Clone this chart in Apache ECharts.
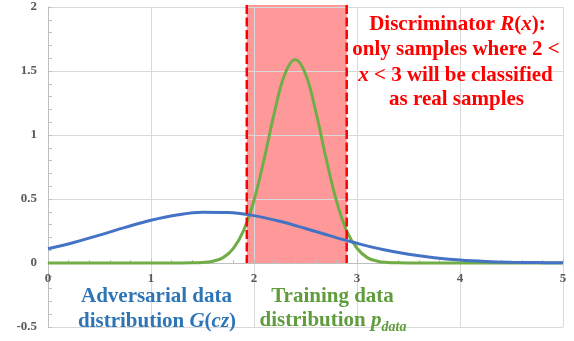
<!DOCTYPE html>
<html>
<head>
<meta charset="utf-8">
<script src="https://cdn.jsdelivr.net/npm/echarts@6/dist/echarts.min.js"></script>
<style>html,body{margin:0;padding:0;background:#fff}#c{width:574px;height:341px}</style>
</head>
<body>
<div id="c"></div>
<script>
// ---- data ----
const xTickLabels = ['0', '1', '2', '3', '4', '5'];
const yTickLabels = ['-0.5', '0', '0.5', '1', '1.5', '2'];

// Adversarial data distribution G(cz) (blue)
const advX = [0, 0.25, 0.5, 0.75, 1, 1.25, 1.5, 1.75, 2, 2.25, 2.5, 2.75, 3, 3.25, 3.5, 3.75, 4, 4.25, 4.5, 4.75, 5];
const advY = [0.112, 0.160, 0.218, 0.278, 0.334, 0.375, 0.397, 0.395, 0.370, 0.326, 0.270, 0.210, 0.154, 0.105, 0.068, 0.041, 0.023, 0.012, 0.006, 0.003, 0.001];

// Training data distribution p_data (green)
const trainX = [0, 1, 1.3, 1.4, 1.5, 1.6, 1.7, 1.8, 1.9, 2.0, 2.1, 2.2, 2.3, 2.4, 2.5, 2.6, 2.7, 2.8, 2.9, 3.0, 3.1, 3.2, 3.3, 3.4, 3.5, 4, 5];
const trainY = [0, 0, 0, 0.001, 0.004, 0.014, 0.042, 0.115, 0.255, 0.490, 0.817, 1.183, 1.477, 1.590, 1.477, 1.183, 0.817, 0.487, 0.250, 0.115, 0.042, 0.014, 0.004, 0.001, 0, 0, 0];

// Discriminator region (red)
const discrLeft = 1.93;
const discrRight = 2.9;
const discrTop = 2;

const toPairs = (xs, ys) => xs.map((x, i) => [x, ys[i]]);

// ---- layout ----
const GRID = { left: 48, right: 11, top: 7, bottom: 14 };
const Y_MIN = -0.5, Y_MAX = 2;
const plotH = 341 - GRID.top - GRID.bottom;
const xAxisOffset = -plotH * (0 - Y_MIN) / (Y_MAX - Y_MIN); // put x axis at y = 0

// ---- text layout helper ----
const mctx = document.createElement('canvas').getContext('2d');
function lineOf(parts, cx, cy) {
  let total = 0;
  parts.forEach(p => { mctx.font = p.font; p.w = mctx.measureText(p.t).width; total += p.w; });
  let x = cx - total / 2;
  return parts.map(p => {
    const el = {
      type: 'text', x: x, y: cy + (p.dy || 0), z: 100,
      style: { text: p.t, font: p.font, fill: p.c,
        textAlign: 'left', textVerticalAlign: 'middle', align: 'left', verticalAlign: 'middle' }
    };
    x += p.w;
    return el;
  });
}
const FAM = '"Liberation Serif"';
const F = 'bold 21px ' + FAM;
const FI = 'italic bold 21px ' + FAM;
const FS = 'italic bold 14px ' + FAM;
const BLUE_T = '#2E75B6', GREEN_T = '#5F9C3C', RED_T = '#FF0000';

const graphics = [].concat(
  lineOf([{t: 'Adversarial data', font: F, c: BLUE_T}], 156.5, 297),
  lineOf([{t: 'distribution ', font: F, c: BLUE_T}, {t: 'G', font: FI, c: BLUE_T}, {t: '(', font: F, c: BLUE_T},
          {t: 'cz', font: FI, c: BLUE_T}, {t: ')', font: F, c: BLUE_T}], 157, 322),
  lineOf([{t: 'Training data', font: F, c: GREEN_T}], 332.5, 297),
  lineOf([{t: 'distribution ', font: F, c: GREEN_T}, {t: 'p', font: FI, c: GREEN_T},
          {t: 'data', font: FS, c: GREEN_T, dy: 6}], 333, 321),
  lineOf([{t: 'Discriminator ', font: F, c: RED_T}, {t: 'R', font: FI, c: RED_T}, {t: '(', font: F, c: RED_T},
          {t: 'x', font: FI, c: RED_T}, {t: '):', font: F, c: RED_T}], 457.5, 25),
  lineOf([{t: 'only samples where 2 <', font: F, c: RED_T}], 456, 50),
  lineOf([{t: 'x', font: FI, c: RED_T}, {t: ' < 3 will be classified', font: F, c: RED_T}], 455.5, 76),
  lineOf([{t: 'as real samples', font: F, c: RED_T}], 456.5, 100)
);

const axisLabelStyle = { color: '#595959', fontFamily: 'Liberation Serif', fontSize: 13, fontWeight: 'bold' };
const gridColor = '#d9d9d9', axisColor = '#bfbfbf';

const chart = echarts.init(document.getElementById('c'), null, { renderer: 'canvas' });
chart.setOption({
  animation: false,
  backgroundColor: '#fff',
  grid: Object.assign({ containLabel: false, outerBoundsMode: 'none' }, GRID),
  xAxis: {
    type: 'value', min: 0, max: 5, interval: 1, offset: xAxisOffset,
    axisLine: { show: true, onZero: false, lineStyle: { color: axisColor, width: 1 } },
    axisTick: { show: true, inside: true, length: 4, lineStyle: { color: axisColor } },
    minorTick: { show: true, splitNumber: 5, length: 3, lineStyle: { color: axisColor } },
    splitLine: { show: true, lineStyle: { color: gridColor, width: 1 } },
    axisLabel: Object.assign({ margin: 9, formatter: v => xTickLabels[Math.round(v)] }, axisLabelStyle)
  },
  yAxis: {
    type: 'value', min: Y_MIN, max: Y_MAX, interval: 0.5,
    axisLine: { show: true, onZero: false, lineStyle: { color: axisColor, width: 1 } },
    axisTick: { show: true, inside: true, length: 4, lineStyle: { color: axisColor } },
    minorTick: { show: true, splitNumber: 5, length: 4, lineStyle: { color: axisColor } },
    splitLine: { show: true, lineStyle: { color: gridColor, width: 1 } },
    axisLabel: Object.assign({ margin: 11, formatter: v => yTickLabels[Math.round((v + 0.5) * 2)] }, axisLabelStyle)
  },
  series: [
    {
      type: 'custom', z: -1, silent: true,
      data: [[discrLeft, discrRight, discrTop]],
      renderItem: (params, api) => {
        const p0 = api.coord([api.value(0), api.value(2)]);
        const p1 = api.coord([api.value(1), 0]);
        return { type: 'rect', shape: { x: p0[0], y: p0[1] - 2, width: p1[0] - p0[0], height: p1[1] - p0[1] + 2 },
                 style: { fill: '#FF9999' } };
      }
    },
    {
      type: 'line', data: toPairs(trainX, trainY), smooth: 0.4, showSymbol: false, z: 2,
      lineStyle: { color: '#70AD47', width: 3 }
    },
    {
      type: 'line', data: toPairs(advX, advY), smooth: 0.4, showSymbol: false, z: 3,
      lineStyle: { color: '#4472C4', width: 3 }
    },
    {
      type: 'custom', z: 4, silent: true,
      data: [[discrLeft, discrTop], [discrRight, discrTop]],
      renderItem: (params, api) => {
        const top = api.coord([api.value(0), api.value(1)]);
        const bot = api.coord([api.value(0), 0]);
        return { type: 'line', shape: { x1: top[0], y1: top[1] - 2, x2: bot[0], y2: bot[1] },
                 style: { stroke: '#FF0000', lineWidth: 2.5, lineDash: [9, 3.5] } };
      }
    }
  ],
  graphic: graphics
});
</script>
</body>
</html>
